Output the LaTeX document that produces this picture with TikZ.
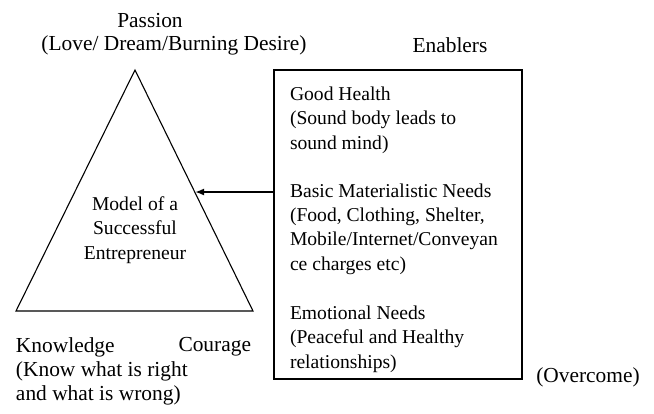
\documentclass[tikz,border=0pt]{standalone}
\usepackage{fontspec}
\setmainfont{Liberation Serif}
\usetikzlibrary{arrows.meta}

\newcommand\txt{\fontsize{19.6}{24.4}\selectfont}
\newcommand\bigtxt{\fontsize{21.4}{23.8}\selectfont}
\tikzset{lbl/.style={inner sep=0pt, outer sep=0pt, font=\txt, align=left},
         outer lbl/.style={lbl, font=\bigtxt}}

\begin{document}
\begin{tikzpicture}[x=1pt,y=-1pt,line width=1.1pt]
\useasboundingbox (0,0) rectangle (654,413);
% the triangle
\coordinate (apex) at (135,70);
\coordinate (bl)   at (16,311);
\coordinate (br)   at (253,311);
\draw (apex) -- (bl) -- (br) -- cycle;
\node [outer lbl] (passion) at (150,21) {Passion};
\node [outer lbl] (love)    at (174,45) {(Love/ Dream/Burning Desire)};
\node [lbl, align=center] (model) at (135,230)
  {Model of a\\Successful\\Entrepreneur};
\node [outer lbl, anchor=west] (knowledge) at (16,347) {Knowledge};
\node [outer lbl, anchor=east] (courage)   at (251,347) {Courage};
\node [outer lbl, anchor=west] (rightwrong) at (16,383)
  {(Know what is right\\and what is wrong)};
% the enablers
\node [outer lbl] (enablers) at (450,45) {Enablers};
\node [draw, line width=1.1pt, minimum width=248pt, minimum height=309pt]
  (enab) at (398,224.5) {};
\node [lbl, anchor=west] (health) at (290,120)
  {Good Health\\(Sound body leads to\\sound mind)};
\node [lbl, anchor=west] (needs) at (290,229)
  {Basic Materialistic Needs\\(Food, Clothing, Shelter,\\Mobile/Internet/Conveyan\\ce charges etc)};
\node [lbl, anchor=west] (emotion) at (290,339)
  {Emotional Needs\\(Peaceful and Healthy\\relationships)};
\node [outer lbl] (overcome) at (588,377) {(Overcome)};
\coordinate (tip) at (195,192);
\draw [line width=2pt, -{Latex[length=9pt,width=7pt]}] (enab.west |- tip) -- (tip);
\end{tikzpicture}
\end{document}
